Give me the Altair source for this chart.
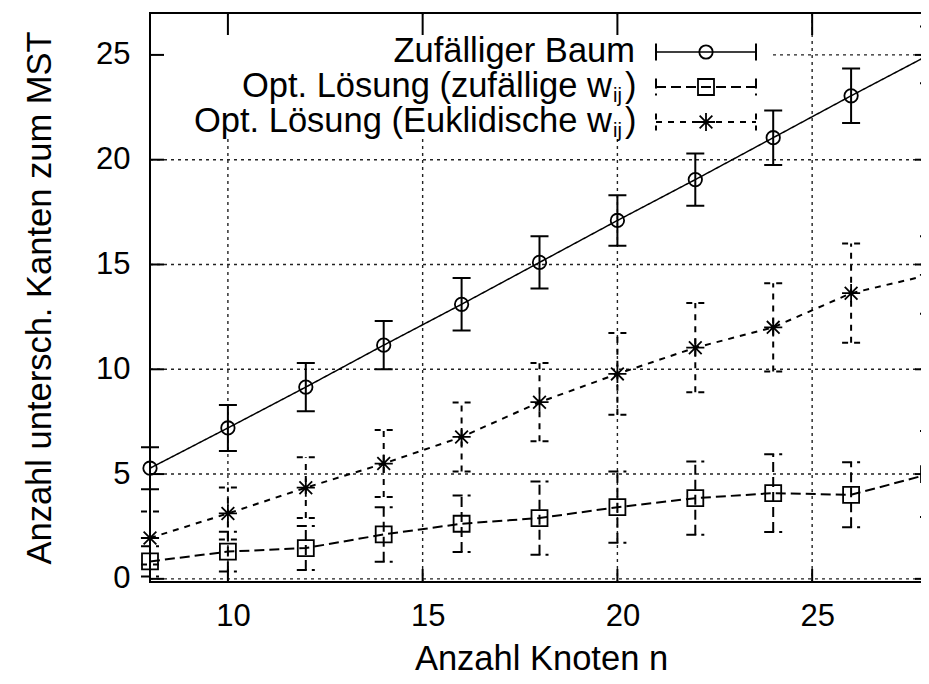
import altair as alt
import pandas as pd

# ---------------- data ----------------
n = [8, 10, 12, 14, 16, 18, 20, 22, 24, 26, 28]

baum = [5.28, 7.2, 9.15, 11.15, 13.1, 15.1, 17.1, 19.05, 21.05, 23.05, 25.0]
baum_err = [1.0, 1.1, 1.15, 1.15, 1.25, 1.25, 1.2, 1.25, 1.3, 1.3, 1.35]

zuf = [0.83, 1.3, 1.47, 2.12, 2.63, 2.9, 3.42, 3.85, 4.09, 4.01, 5.0]
zuf_err = [0.72, 0.95, 1.05, 1.3, 1.35, 1.75, 1.7, 1.75, 1.85, 1.55, 2.05]

eukl = [1.95, 3.12, 4.35, 5.5, 6.77, 8.43, 9.78, 11.03, 12.0, 13.63, 14.5]
eukl_err = [1.26, 1.24, 1.45, 1.6, 1.65, 1.87, 1.95, 2.13, 2.1, 2.37, 1.85]

legend_text = ["Zufälliger Baum", "Opt. Lösung (zufällige w", "Opt. Lösung (Euklidische w"]
legend_sub = ["", "ij", "ij"]

x_ticks = [10, 15, 20, 25]
y_ticks = [0, 5, 10, 15, 20, 25]

x_title = "Anzahl Knoten n"
y_title = "Anzahl untersch. Kanten zum MST"

# ---------------- layout ----------------
W, H = 779, 569
FONT = "Liberation Sans"
XS = alt.Scale(domain=[8, 28], nice=False, zero=False)
YS = alt.Scale(domain=[-0.15, 27.0], nice=False, zero=False)

hline = "M-1,0L1,0"
star = "M-1,0L1,0M0,-1L0,1M-0.7,-0.7L0.7,0.7M-0.7,0.7L0.7,-0.7"

styles = [
    dict(vals=baum, err=baum_err, dash=[1, 0], lw=1.5, ew=2, shape="circle", size=180),
    dict(vals=zuf, err=zuf_err, dash=[10, 5], lw=2, ew=2, shape="square", size=256),
    dict(vals=eukl, err=eukl_err, dash=[6, 6], lw=2, ew=2, shape=star, size=330),
]

x_axis = alt.Axis(
    values=x_ticks, grid=False, ticks=False, domain=False,
    labelFont=FONT, labelFontSize=31, labelColor="black", labelPadding=19,
    labelOffset=5, labelFlush=False,
    title=x_title, titleFont=FONT, titleFontSize=34.5, titleFontWeight="normal",
    titleColor="black", titleX=391, titleY=87, titleBaseline="alphabetic",
    titleAlign="center",
)
y_axis = alt.Axis(
    values=y_ticks, grid=False, ticks=False, domain=False,
    labelFont=FONT, labelFontSize=31, labelColor="black", labelPadding=20,
    labelFlush=False,
    title=y_title, titleFont=FONT, titleFontSize=34.5, titleFontWeight="normal",
    titleColor="black", titleX=-100, titleY=H / 2, titleAngle=270,
    titleBaseline="alphabetic", titleAlign="center",
)


def X(field):
    return alt.X(field, scale=XS, axis=x_axis)


def Y(field):
    return alt.Y(field, scale=YS, axis=y_axis)


layers = []

# grid (dotted)
gx = pd.DataFrame({"v": x_ticks})
gy = pd.DataFrame({"v": y_ticks})
layers.append(
    alt.Chart(gx).mark_rule(color="#222", strokeWidth=1.4, strokeDash=[3, 4]).encode(
        x=X("v:Q"), y=alt.value(0), y2=alt.value(H)
    )
)
layers.append(
    alt.Chart(gy).mark_rule(color="#222", strokeWidth=1.4, strokeDash=[3, 4]).encode(
        y=Y("v:Q"), x=alt.value(0), x2=alt.value(W)
    )
)

# opaque key box
layers.append(
    alt.Chart(pd.DataFrame({"a": [0]})).mark_rect(color="white").encode(
        x=alt.value(2), x2=alt.value(620), y=alt.value(2), y2=alt.value(125)
    )
)

for i, st in enumerate(styles):
    df = pd.DataFrame({
        "n": n,
        "y": st["vals"],
        "lo": [v - e for v, e in zip(st["vals"], st["err"])],
        "hi": [v + e for v, e in zip(st["vals"], st["err"])],
    })
    caps = pd.DataFrame({"n": n + n, "c": list(df["lo"]) + list(df["hi"])})
    layers.append(
        alt.Chart(df).mark_rule(color="black", strokeWidth=st["ew"], strokeDash=st["dash"]).encode(
            x=X("n:Q"), y=Y("lo:Q"), y2="hi:Q",
        )
    )
    layers.append(
        alt.Chart(caps).mark_point(
            shape=hline, size=324, filled=False, color="black", opacity=1,
            strokeWidth=st["ew"], strokeDash=st["dash"],
        ).encode(x=X("n:Q"), y=Y("c:Q"))
    )
    layers.append(
        alt.Chart(df).mark_line(color="black", strokeWidth=st["lw"], strokeDash=st["dash"]).encode(
            x=X("n:Q"), y=Y("y:Q"),
        )
    )
    layers.append(
        alt.Chart(df).mark_point(
            shape=st["shape"], size=st["size"], filled=False, color="black",
            opacity=1, strokeWidth=1.8,
        ).encode(x=X("n:Q"), y=Y("y:Q"))
    )

# ---------------- key ----------------
row_y = [39, 74, 109]
for i, st in enumerate(styles):
    ry = row_y[i]
    lab = pd.DataFrame({"t": [legend_text[i]]})
    tx = 485 if legend_sub[i] == "" else 462
    layers.append(
        alt.Chart(lab).mark_text(
            align="right", baseline="middle", font=FONT, fontSize=34.5, color="black"
        ).encode(x=alt.value(tx), y=alt.value(ry), text="t:N")
    )
    if legend_sub[i]:
        layers.append(
            alt.Chart(pd.DataFrame({"t": [legend_sub[i]]})).mark_text(
                align="left", baseline="alphabetic", font=FONT, fontSize=20, color="black"
            ).encode(x=alt.value(463), y=alt.value(ry + 15), text="t:N")
        )
        layers.append(
            alt.Chart(pd.DataFrame({"t": [")"]})).mark_text(
                align="left", baseline="middle", font=FONT, fontSize=34.5, color="black"
            ).encode(x=alt.value(475), y=alt.value(ry), text="t:N")
        )
    one = pd.DataFrame({"a": [0]})
    layers.append(
        alt.Chart(one).mark_rule(color="black", strokeWidth=st["lw"] if i == 0 else 2,
                                 strokeDash=st["dash"]).encode(
            x=alt.value(506), x2=alt.value(606), y=alt.value(ry)
        )
    )
    for cx in (506, 606):
        layers.append(
            alt.Chart(one).mark_rule(color="black", strokeWidth=2, strokeDash=st["dash"]).encode(
                x=alt.value(cx), y=alt.value(ry - 8.5), y2=alt.value(ry + 8.5)
            )
        )
    layers.append(
        alt.Chart(one).mark_point(
            shape=st["shape"], size=st["size"], filled=False, color="black",
            opacity=1, strokeWidth=1.8,
        ).encode(x=alt.value(556), y=alt.value(ry))
    )

# ---------------- inward ticks (mirrored) ----------------
layers.append(
    alt.Chart(gx).mark_rule(color="black", strokeWidth=2).encode(
        x=X("v:Q"), y=alt.value(H - 13), y2=alt.value(H)
    )
)
layers.append(
    alt.Chart(gx).mark_rule(color="black", strokeWidth=2).encode(
        x=X("v:Q"), y=alt.value(0), y2=alt.value(22)
    )
)
layers.append(
    alt.Chart(gy).mark_rule(color="black", strokeWidth=2).encode(
        y=Y("v:Q"), x=alt.value(0), x2=alt.value(14)
    )
)
layers.append(
    alt.Chart(gy).mark_rule(color="black", strokeWidth=2).encode(
        y=Y("v:Q"), x=alt.value(W - 14), x2=alt.value(W)
    )
)

chart = alt.layer(*layers).properties(
    width=W,
    height=H,
    autosize=alt.AutoSizeParams(type="none"),
    padding={"left": 142, "top": 5, "right": -8, "bottom": 94},
    background="white",
).configure_view(stroke="black", strokeWidth=2)

chart.save("out.html", embed_options={"renderer": "svg", "actions": False})
